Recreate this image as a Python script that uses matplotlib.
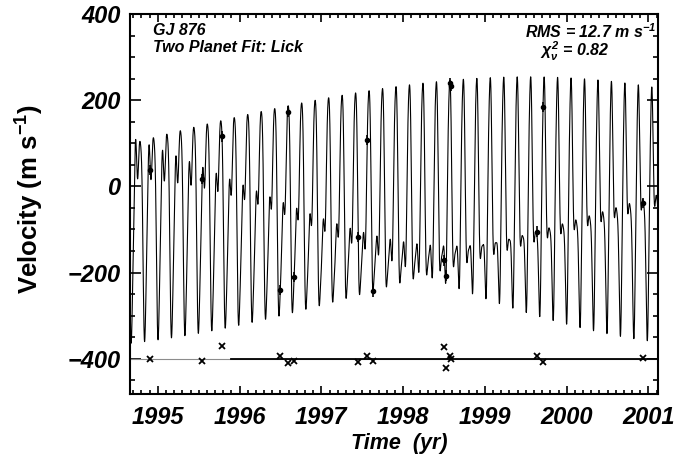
import numpy as np
import matplotlib
matplotlib.use("Agg")
import matplotlib.pyplot as plt
from matplotlib.ticker import MultipleLocator

# ---- values (time in yr, velocity in m/s) ----
# observations (filled dots) and their residuals (crosses drawn around -400)
obs_t = [1994.906, 1995.538, 1995.790, 1996.496, 1996.597, 1996.667,
         1997.446, 1997.556, 1997.637, 1998.505, 1998.520, 1998.570,
         1998.580, 1999.635, 1999.716, 2000.931]
obs_v = [38, 18, 116, -241, 174, -210, -118, 108, -244, -172, -207, 241,
         233, -105, 184, -39]
obs_err = [12] * 16
resid = [-1, -5, 29, 6, -11, -5, -8, 6, -5, 28, -21, 6, -1, 6, -7, 1]

# extrema of the fitted curve
peak_t = [1994.792, 1994.946, 1995.110, 1995.273, 1995.435, 1995.607,
          1995.770, 1995.933, 1996.096, 1996.272, 1996.434, 1996.597,
          1996.761, 1996.924, 1997.086, 1997.250, 1997.419, 1997.580,
          1997.747, 1997.923, 1998.085, 1998.241, 1998.403, 1998.566,
          1998.737, 1998.901, 1999.064, 1999.226, 1999.390, 1999.553,
          1999.718, 1999.887, 2000.051, 2000.213, 2000.376, 2000.552,
          2000.715, 2000.877, 2001.041]
peak_v = [104, 112, 121, 129, 137, 144, 152, 160, 166, 171, 179, 186, 191,
          198, 202, 208, 213, 218, 222, 225, 230, 233, 237, 240, 243, 244,
          244, 245, 245, 245, 244, 243, 241, 238, 237, 235, 233, 228, 223]
trough_t = [1994.845, 1995.007, 1995.171, 1995.334, 1995.497, 1995.660,
            1995.823, 1995.986, 1996.150, 1996.316, 1996.477, 1996.646,
            1996.810, 1996.975, 1997.138, 1997.300, 1997.464, 1997.624,
            1997.794, 1997.963, 1998.126, 1998.290, 1998.514, 1998.688,
            1998.852, 1999.015, 1999.178, 1999.341, 1999.504, 1999.667,
            1999.831, 1999.993, 2000.164, 2000.327, 2000.491, 2000.656,
            2000.827, 2000.988]
trough_v = [-353, -348, -343, -339, -334, -328, -322, -316, -311, -303, -297,
            -290, -282, -274, -267, -258, -250, -243, -232, -223, -214, -206,
            -226, -233, -246, -257, -268, -278, -287, -297, -307, -314, -322,
            -330, -336, -341, -347, -350]
bump_t = [1994.897, 1995.061, 1995.224, 1995.395, 1995.558, 1995.722,
          1995.884, 1996.047, 1996.211, 1996.373, 1996.536, 1996.700,
          1996.863, 1997.025, 1997.189, 1997.352, 1997.523, 1997.678,
          1997.841, 1998.004, 1998.167, 1998.330, 1998.493, 1998.657,
          1998.811, 1998.975, 1999.137, 1999.300, 1999.464, 1999.626,
          1999.789, 1999.953, 2000.116, 2000.279, 2000.442, 2000.605,
          2000.768, 2000.940]
bump_v = [94, 81, 69, 56, 46, 30, 17, 4, -10, -24, -39, -52, -65, -78, -89,
          -99, -109, -118, -124, -130, -133, -137, -139, -137, -136, -131,
          -127, -122, -116, -108, -100, -93, -82, -75, -63, -56, -47, -38]

# ---- two-period (two planet) harmonic fit to the read points ----
T0 = 1998.0


def design(t, pb, pc, deriv=False):
    td = (np.asarray(t) - T0) * 365.25
    cols = [np.zeros_like(td) if deriv else np.ones_like(td)]
    for p in (pb, pc):
        for k in (1, 2):
            w = 2 * np.pi * k / p
            if deriv:
                cols += [-w * np.sin(w * td), w * np.cos(w * td)]
            else:
                cols += [np.cos(w * td), np.sin(w * td)]
    return np.column_stack(cols)


model_v = np.array(obs_v) - np.array(resid)
val_t = np.concatenate([peak_t, trough_t, bump_t, obs_t])
val_v = np.concatenate([peak_v, trough_v, bump_v, model_v])
val_s = np.concatenate([np.full(len(peak_t), 6.0), np.full(len(trough_t), 6.0),
                        np.full(len(bump_t), 12.0), np.full(len(obs_t), 15.0)])
der_t = np.concatenate([peak_t, trough_t, bump_t])
der_s = np.concatenate([np.full(len(peak_t) + len(trough_t), 8.0),
                        np.full(len(bump_t), 15.0)])


def fit(pb, pc):
    A = np.vstack([design(val_t, pb, pc) / val_s[:, None],
                   design(der_t, pb, pc, True) / der_s[:, None]])
    b = np.concatenate([val_v / val_s, np.zeros(len(der_t))])
    coef, *_ = np.linalg.lstsq(A, b, rcond=None)
    return coef, np.sum((A @ coef - b) ** 2)


best = None
for pb in np.arange(59.0, 62.5, 0.05):
    for pc in np.arange(29.6, 31.0, 0.02):
        c, chi = fit(pb, pc)
        if best is None or chi < best[0]:
            best = (chi, pb, pc)
_, pb0, pc0 = best
for pb in np.arange(pb0 - 0.06, pb0 + 0.06, 0.005):
    for pc in np.arange(pc0 - 0.03, pc0 + 0.03, 0.002):
        c, chi = fit(pb, pc)
        if chi < best[0]:
            best = (chi, pb, pc)
_, pb0, pc0 = best
coef, _ = fit(pb0, pc0)

t_curve = np.linspace(1994.6, 2001.2, 24000)
v_curve = design(t_curve, pb0, pc0) @ coef

# ---- figure ----
plt.rcParams['font.family'] = ['Liberation Sans', 'DejaVu Sans']
plt.rcParams['font.weight'] = 'bold'
plt.rcParams['mathtext.fontset'] = 'custom'
plt.rcParams['mathtext.rm'] = 'Liberation Sans:bold:italic'
plt.rcParams['mathtext.it'] = 'Liberation Sans:bold:italic'
plt.rcParams['mathtext.bf'] = 'Liberation Sans:bold'

fig = plt.figure(figsize=(6.82, 4.59), dpi=100)
ax = fig.add_axes([130 / 682, 1 - 393.5 / 459, 528.3 / 682, 379.5 / 459])

ax.plot(t_curve, v_curve, color='k', lw=0.8)
ax.errorbar(obs_t, obs_v, yerr=obs_err, fmt='o', ms=3, color='k',
            elinewidth=1.2, capsize=0)
ax.axhline(-400, color='0.55', lw=0.8)
ax.plot([1995.9, 2001.2], [-400, -400], color='k', lw=1.3)
ax.plot(obs_t, np.array(resid) - 400, 'x', ms=4.5, mew=1.3, color='k')

ax.set_xlim(1994.66, 2001.12)
ax.set_ylim(-481, 400.5)
ax.xaxis.set_major_locator(MultipleLocator(1))
ax.xaxis.set_minor_locator(MultipleLocator(0.1))
ax.yaxis.set_major_locator(MultipleLocator(200))
ax.yaxis.set_minor_locator(MultipleLocator(50))
ax.tick_params(which='both', direction='in', top=True, right=True, width=1.2)
ax.tick_params(axis='x', which='major', length=5.5, pad=9)
ax.tick_params(axis='x', which='minor', length=2.8)
ax.tick_params(axis='y', which='major', length=7.6, pad=7)
ax.tick_params(axis='y', which='minor', length=3.8)
for sp in ax.spines.values():
    sp.set_linewidth(1.5)
for lab in ax.get_xticklabels() + ax.get_yticklabels():
    lab.set_fontsize(17)
    lab.set_style('italic')
    lab.set_fontweight('bold')

txt = dict(fontsize=11.5, style='italic', fontweight='bold',
           transform=ax.transAxes)
ax.text(0.043, 0.977, 'GJ 876', va='top', **txt)
ax.text(0.043, 0.932, 'Two Planet Fit: Lick', va='top', **txt)
ax.text(0.997, 0.977, r'RMS = 12.7 m s$^{-1}$', va='top', ha='right', **txt)
ax.text(0.908, 0.932, r'$\chi^2_\nu$ = 0.82', va='top', ha='right', **txt)

fig.text(399 / 682, 1 - 444 / 459, 'Time  (yr)', ha='center', va='center',
         fontsize=15.5, style='italic', fontweight='bold')
fig.text(30 / 682, 1 - 199 / 459, r'Velocity (m s$^{\mathbf{-1}}$)',
         ha='center', va='center', rotation=90, fontsize=18.5,
         fontweight='bold')

fig.savefig('out.png', dpi=100)
